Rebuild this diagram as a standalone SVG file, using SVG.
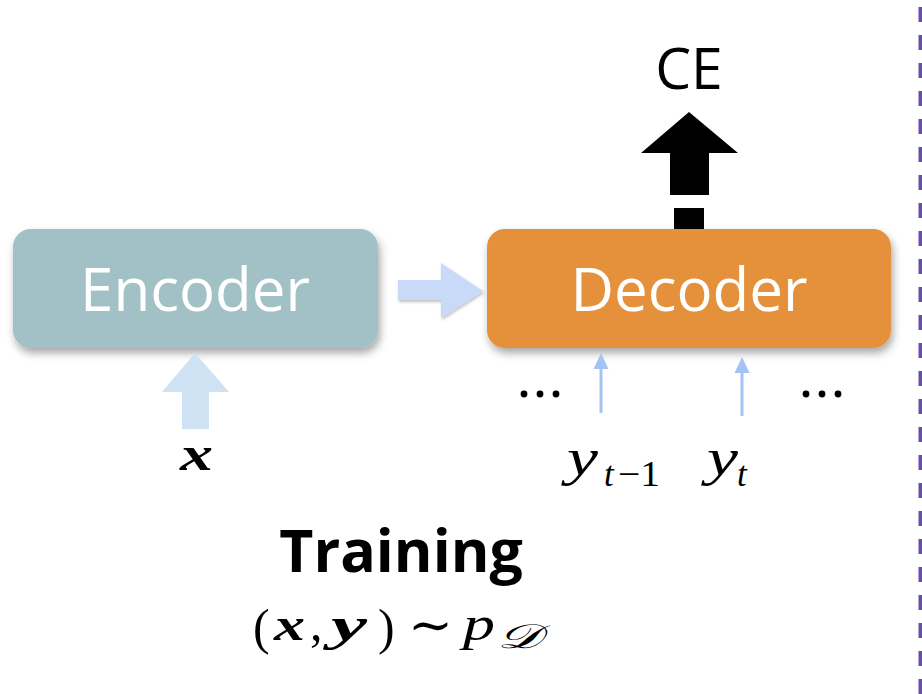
<svg xmlns="http://www.w3.org/2000/svg" width="922" height="694" viewBox="0 0 922 694">
<style>
.lbl{font-family:"Open Sans","Noto Sans",sans-serif;fill:#fff;font-size:60px;text-anchor:middle}
.m{font-family:"Liberation Serif","DejaVu Serif",serif;fill:#000}
.i{font-style:italic}
.b{font-weight:bold}
.thin{stroke:#A4C2F4;stroke-width:3;fill:none}
.head{fill:#A4C2F4}
.dot{fill:#000}
</style>
<defs>
<filter id="sh" x="-10%" y="-20%" width="125%" height="160%">
<feDropShadow dx="2" dy="5" stdDeviation="4" flood-color="#000" flood-opacity="0.35"/>
</filter>
<filter id="sh2" x="-20%" y="-20%" width="150%" height="150%">
<feDropShadow dx="1" dy="2" stdDeviation="1.5" flood-color="#000" flood-opacity="0.25"/>
</filter>
</defs>
<rect x="0" y="0" width="922" height="694" fill="#fff"/>

<g id="encoder">
<rect x="13" y="229" width="365" height="119" rx="18" fill="#A2C1C6" filter="url(#sh)"/>
<text class="lbl" x="195" y="311">Encoder</text>
</g>

<g id="decoder">
<rect x="487" y="229" width="404" height="119" rx="18" fill="#E5913A" filter="url(#sh)"/>
<text class="lbl" x="689" y="311">Decoder</text>
</g>

<g id="ce">
<text x="689" y="89" font-family="Open Sans, Noto Sans, sans-serif" font-size="57" text-anchor="middle" fill="#000">CE</text>
</g>

<g id="connectors">
<path d="M398,280 L441,280 L441,263 L483,291 L441,318 L441,300 L398,300 Z" fill="#C9DAF8" filter="url(#sh2)"/>
<path d="M195,353 L229,392 L209,392 L209,429 L182,429 L182,392 L162,392 Z" fill="#CFE2F3"/>
<path d="M689,112 L738,153 L709,153 L709,195 L670,195 L670,153 L641,153 Z" fill="#000"/>
<rect x="674" y="208" width="30" height="21" fill="#000"/>
<line class="thin" x1="601" y1="413" x2="601" y2="366"/>
<path class="head" d="M601,353 L608.5,369 L593.5,369 Z"/>
<line class="thin" x1="742" y1="416" x2="742" y2="370"/>
<path class="head" d="M742,357 L749.5,373 L734.5,373 Z"/>
<line x1="920.5" y1="7" x2="920.5" y2="694" stroke="#674EA7" stroke-width="4" stroke-dasharray="15 13"/>
</g>

<g id="dots">
<circle class="dot" cx="524" cy="394" r="3.4"/>
<circle class="dot" cx="540" cy="394" r="3.4"/>
<circle class="dot" cx="556" cy="394" r="3.4"/>
<circle class="dot" cx="806" cy="394" r="3.4"/>
<circle class="dot" cx="822" cy="394" r="3.4"/>
<circle class="dot" cx="838" cy="394" r="3.4"/>
</g>

<g id="labels">
<text class="m i b" x="180" y="470" font-size="48" textLength="33" lengthAdjust="spacingAndGlyphs">x</text>
<text class="m i" x="567" y="475" font-size="52" textLength="31" lengthAdjust="spacingAndGlyphs">y</text>
<text class="m i" x="604" y="486" font-size="35">t</text>
<text class="m" x="618" y="486" font-size="35" textLength="42" lengthAdjust="spacingAndGlyphs">−1</text>
<text class="m i" x="707" y="475" font-size="52" textLength="31" lengthAdjust="spacingAndGlyphs">y</text>
<text class="m i" x="737" y="486" font-size="35">t</text>
<text x="401" y="572" font-family="Open Sans, Noto Sans, sans-serif" font-weight="bold" font-size="59" text-anchor="middle" fill="#000">Training</text>
<text class="m" x="253" y="644" font-size="50">(</text>
<text class="m i b" x="274" y="640" font-size="46" textLength="31" lengthAdjust="spacingAndGlyphs">x</text>
<text class="m" x="310" y="640" font-size="50">,</text>
<text class="m i b" x="331" y="640" font-size="46" textLength="36" lengthAdjust="spacingAndGlyphs">y</text>
<text class="m" x="378" y="644" font-size="50">)</text>
<text class="m" x="408" y="642" font-size="50" textLength="45" lengthAdjust="spacingAndGlyphs">∼</text>
<text class="m i" x="463" y="640" font-size="48" textLength="32" lengthAdjust="spacingAndGlyphs">p</text>
<text class="m i" x="497" y="648" font-size="34" textLength="44" lengthAdjust="spacingAndGlyphs">𝒟</text>
</g>
</svg>
